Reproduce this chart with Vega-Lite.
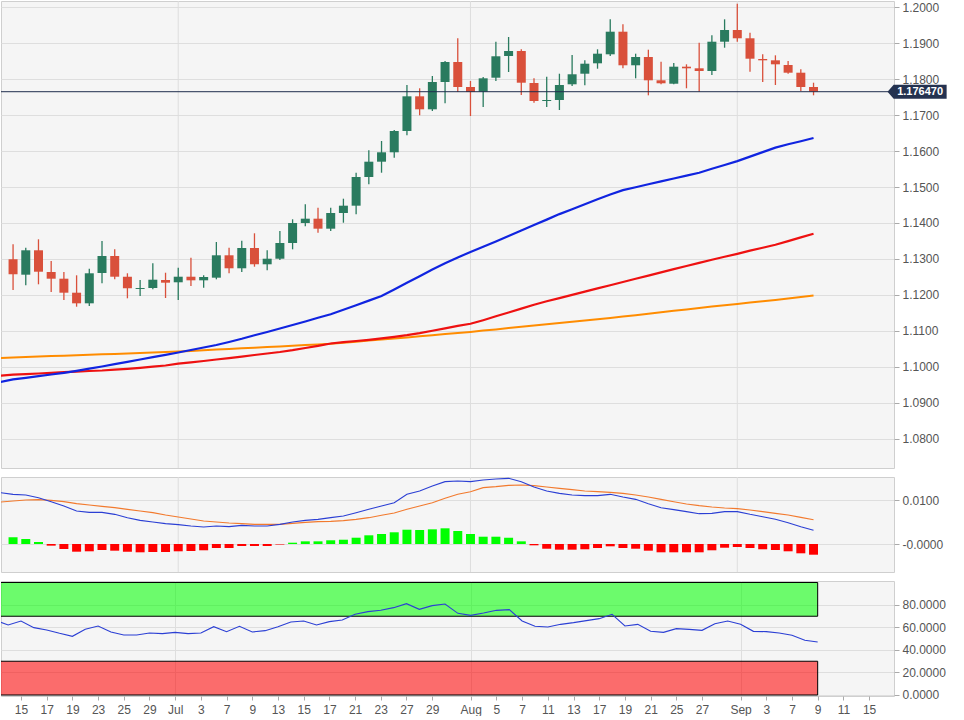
{
  "$schema": "https://vega.github.io/schema/vega-lite/v6.json",
  "padding": 0,
  "background": "#ffffff",
  "spacing": 7,
  "config": {
    "view": {"stroke": "#cfcfcf", "fill": "#f5f5f5"},
    "axis": {"labelFont": "Liberation Sans", "labelFontSize": 12, "labelColor": "#555555", "gridColor": "#dedede", "tickColor": "#aaaaaa", "domain": false, "title": null, "tickCount": 200, "labelOverlap": false}
  },
  "datasets": {
    "px": [
      {"i":-2,"date":"2020-06-11","m1":1.09583,"m2":1.09761,"m3":1.1025,"macd":0.011747,"sig":0.009611,"rsi":66.37},
      {"i":-1,"date":"2020-06-12","o":1.12992,"h":1.13408,"l":1.12139,"c":1.12575,"m1":1.09656,"m2":1.09786,"m3":1.10264,"macd":0.011365,"sig":0.00984,"hist":0.00153,"rsi":62.22},
      {"i":0,"date":"2020-06-15","o":1.12564,"h":1.13314,"l":1.12269,"c":1.13242,"m1":1.097,"m2":1.09803,"m3":1.10278,"macd":0.011213,"sig":0.010069,"hist":0.00114,"rsi":65.78},
      {"i":1,"date":"2020-06-16","o":1.13242,"h":1.13547,"l":1.12297,"c":1.12647,"m1":1.09747,"m2":1.09819,"m3":1.10289,"macd":0.010603,"sig":0.010145,"hist":0.00046,"rsi":59.85},
      {"i":2,"date":"2020-06-17","o":1.12639,"h":1.12944,"l":1.12083,"c":1.12453,"m1":1.09792,"m2":1.09839,"m3":1.10303,"macd":0.009687,"sig":0.009992,"hist":-0.00038,"rsi":57.78},
      {"i":3,"date":"2020-06-18","o":1.12453,"h":1.12639,"l":1.11861,"c":1.12064,"m1":1.09836,"m2":1.09856,"m3":1.10314,"macd":0.008696,"sig":0.009687,"hist":-0.00114,"rsi":54.81},
      {"i":4,"date":"2020-06-19","o":1.12064,"h":1.12547,"l":1.11675,"c":1.11769,"m1":1.09894,"m2":1.09872,"m3":1.10328,"macd":0.007551,"sig":0.00923,"hist":-0.00176,"rsi":52.15},
      {"i":5,"date":"2020-06-22","o":1.11769,"h":1.12731,"l":1.11694,"c":1.12603,"m1":1.09956,"m2":1.09889,"m3":1.10339,"macd":0.007246,"sig":0.008924,"hist":-0.00167,"rsi":58.37},
      {"i":6,"date":"2020-06-23","o":1.12611,"h":1.135,"l":1.12325,"c":1.13083,"m1":1.10014,"m2":1.09903,"m3":1.10353,"macd":0.007246,"sig":0.008619,"hist":-0.00137,"rsi":61.33},
      {"i":7,"date":"2020-06-24","o":1.13083,"h":1.13269,"l":1.12436,"c":1.12508,"m1":1.10078,"m2":1.09925,"m3":1.10364,"macd":0.006789,"sig":0.008314,"hist":-0.00153,"rsi":56},
      {"i":8,"date":"2020-06-25","o":1.12508,"h":1.12603,"l":1.11908,"c":1.12186,"m1":1.10144,"m2":1.0995,"m3":1.10375,"macd":0.006026,"sig":0.007933,"hist":-0.00176,"rsi":53.33},
      {"i":9,"date":"2020-06-26","o":1.12167,"h":1.12417,"l":1.11972,"c":1.12194,"m1":1.10208,"m2":1.09978,"m3":1.10389,"macd":0.005416,"sig":0.007551,"hist":-0.0019,"rsi":53.33},
      {"i":10,"date":"2020-06-29","o":1.12194,"h":1.12881,"l":1.12158,"c":1.12425,"m1":1.10272,"m2":1.10008,"m3":1.104,"macd":0.005034,"sig":0.00717,"hist":-0.00183,"rsi":55.11},
      {"i":11,"date":"2020-06-30","o":1.12417,"h":1.12619,"l":1.11917,"c":1.12342,"m1":1.10339,"m2":1.10042,"m3":1.10414,"macd":0.004653,"sig":0.006636,"hist":-0.00183,"rsi":54.52},
      {"i":12,"date":"2020-07-01","o":1.12353,"h":1.12758,"l":1.11861,"c":1.12508,"m1":1.10403,"m2":1.10094,"m3":1.10428,"macd":0.004424,"sig":0.006178,"hist":-0.00167,"rsi":55.7},
      {"i":13,"date":"2020-07-02","o":1.12508,"h":1.13036,"l":1.1225,"c":1.12408,"m1":1.10472,"m2":1.10131,"m3":1.10444,"macd":0.004119,"sig":0.005721,"hist":-0.0016,"rsi":54.52},
      {"i":14,"date":"2020-07-03","o":1.12408,"h":1.12547,"l":1.12203,"c":1.125,"m1":1.10542,"m2":1.10167,"m3":1.10464,"macd":0.00389,"sig":0.005263,"hist":-0.00144,"rsi":55.11},
      {"i":15,"date":"2020-07-06","o":1.12481,"h":1.13472,"l":1.12436,"c":1.13103,"m1":1.10611,"m2":1.10208,"m3":1.10483,"macd":0.004119,"sig":0.005034,"hist":-0.00092,"rsi":60.74},
      {"i":16,"date":"2020-07-07","o":1.13103,"h":1.13314,"l":1.12603,"c":1.12742,"m1":1.10694,"m2":1.10247,"m3":1.105,"macd":0.003966,"sig":0.004805,"hist":-0.00092,"rsi":56.3},
      {"i":17,"date":"2020-07-08","o":1.12742,"h":1.13508,"l":1.12639,"c":1.13306,"m1":1.10783,"m2":1.10289,"m3":1.10519,"macd":0.004272,"sig":0.004653,"hist":-0.00046,"rsi":61.04},
      {"i":18,"date":"2020-07-09","o":1.13306,"h":1.13714,"l":1.12786,"c":1.12853,"m1":1.10881,"m2":1.10333,"m3":1.10536,"macd":0.004119,"sig":0.0045,"hist":-0.00046,"rsi":56},
      {"i":19,"date":"2020-07-10","o":1.12853,"h":1.13242,"l":1.12686,"c":1.13008,"m1":1.10972,"m2":1.10375,"m3":1.10556,"macd":0.004119,"sig":0.0045,"hist":-0.00046,"rsi":57.19},
      {"i":20,"date":"2020-07-13","o":1.13008,"h":1.13778,"l":1.12972,"c":1.13444,"m1":1.11069,"m2":1.10417,"m3":1.10572,"macd":0.0045,"sig":0.0045,"hist":-0.00012,"rsi":60.74},
      {"i":21,"date":"2020-07-14","o":1.13444,"h":1.14103,"l":1.13269,"c":1.14,"m1":1.11167,"m2":1.10467,"m3":1.10592,"macd":0.005034,"sig":0.004729,"hist":0.0003,"rsi":64.89},
      {"i":22,"date":"2020-07-15","o":1.14,"h":1.14519,"l":1.13908,"c":1.1412,"m1":1.11264,"m2":1.10528,"m3":1.10608,"macd":0.005416,"sig":0.004958,"hist":0.00061,"rsi":65.78},
      {"i":23,"date":"2020-07-16","o":1.1412,"h":1.14425,"l":1.13731,"c":1.13842,"m1":1.11367,"m2":1.10586,"m3":1.10628,"macd":0.005645,"sig":0.005111,"hist":0.00061,"rsi":62.22},
      {"i":24,"date":"2020-07-17","o":1.13842,"h":1.14425,"l":1.13778,"c":1.14278,"m1":1.11467,"m2":1.10653,"m3":1.10644,"macd":0.006026,"sig":0.005187,"hist":0.00085,"rsi":65.19},
      {"i":25,"date":"2020-07-20","o":1.14278,"h":1.14675,"l":1.14008,"c":1.14481,"m1":1.11589,"m2":1.10689,"m3":1.10672,"macd":0.006407,"sig":0.005339,"hist":0.00098,"rsi":66.67},
      {"i":26,"date":"2020-07-21","o":1.14481,"h":1.15397,"l":1.14242,"c":1.15278,"m1":1.11717,"m2":1.10722,"m3":1.10703,"macd":0.00717,"sig":0.005645,"hist":0.00144,"rsi":71.7},
      {"i":27,"date":"2020-07-22","o":1.15278,"h":1.16019,"l":1.15075,"c":1.15703,"m1":1.11844,"m2":1.10756,"m3":1.10733,"macd":0.007933,"sig":0.006026,"hist":0.00199,"rsi":74.07},
      {"i":28,"date":"2020-07-23","o":1.15703,"h":1.16278,"l":1.15397,"c":1.15964,"m1":1.11972,"m2":1.10794,"m3":1.10761,"macd":0.008696,"sig":0.00656,"hist":0.00229,"rsi":75.26},
      {"i":29,"date":"2020-07-24","o":1.15964,"h":1.16583,"l":1.15814,"c":1.16556,"m1":1.12153,"m2":1.10836,"m3":1.10792,"macd":0.009459,"sig":0.007094,"hist":0.00268,"rsi":77.63},
      {"i":30,"date":"2020-07-27","o":1.16556,"h":1.17833,"l":1.16436,"c":1.17519,"m1":1.12339,"m2":1.10883,"m3":1.10822,"macd":0.011365,"sig":0.007933,"hist":0.00327,"rsi":81.19},
      {"i":31,"date":"2020-07-28","o":1.17519,"h":1.17742,"l":1.16992,"c":1.17158,"m1":1.12522,"m2":1.10939,"m3":1.10853,"macd":0.012128,"sig":0.008696,"hist":0.0032,"rsi":76.15},
      {"i":32,"date":"2020-07-29","o":1.17158,"h":1.18083,"l":1.17111,"c":1.17917,"m1":1.12708,"m2":1.11006,"m3":1.10883,"macd":0.013272,"sig":0.009459,"hist":0.00336,"rsi":79.41},
      {"i":33,"date":"2020-07-30","o":1.17917,"h":1.185,"l":1.17325,"c":1.18472,"m1":1.12883,"m2":1.11072,"m3":1.10914,"macd":0.014264,"sig":0.01045,"hist":0.00359,"rsi":80.89},
      {"i":34,"date":"2020-07-31","o":1.18472,"h":1.19131,"l":1.17639,"c":1.17778,"m1":1.13042,"m2":1.11142,"m3":1.10944,"macd":0.014416,"sig":0.011365,"hist":0.00297,"rsi":72.59},
      {"i":35,"date":"2020-08-03","o":1.17778,"h":1.17944,"l":1.16972,"c":1.17639,"m1":1.13197,"m2":1.112,"m3":1.10975,"macd":0.014264,"sig":0.011976,"hist":0.00229,"rsi":70.81},
      {"i":36,"date":"2020-08-04","o":1.17647,"h":1.18056,"l":1.17222,"c":1.18019,"m1":1.13342,"m2":1.113,"m3":1.11011,"macd":0.014645,"sig":0.012891,"hist":0.00167,"rsi":72.89},
      {"i":37,"date":"2020-08-05","o":1.18036,"h":1.19036,"l":1.17944,"c":1.18631,"m1":1.13489,"m2":1.11408,"m3":1.11044,"macd":0.014874,"sig":0.01312,"hist":0.00167,"rsi":75.26},
      {"i":38,"date":"2020-08-06","o":1.18639,"h":1.19167,"l":1.18194,"c":1.18778,"m1":1.13639,"m2":1.11514,"m3":1.11081,"macd":0.015027,"sig":0.013425,"hist":0.00144,"rsi":75.85},
      {"i":39,"date":"2020-08-07","o":1.18778,"h":1.18825,"l":1.17556,"c":1.17897,"m1":1.13789,"m2":1.11622,"m3":1.11117,"macd":0.014264,"sig":0.013501,"hist":0.00061,"rsi":65.78},
      {"i":40,"date":"2020-08-10","o":1.17889,"h":1.18019,"l":1.17342,"c":1.17389,"m1":1.13944,"m2":1.11728,"m3":1.11153,"macd":0.013043,"sig":0.013349,"hist":-0.0003,"rsi":61.04},
      {"i":41,"date":"2020-08-11","o":1.17389,"h":1.18064,"l":1.17222,"c":1.17417,"m1":1.14094,"m2":1.11825,"m3":1.11186,"macd":0.012128,"sig":0.013043,"hist":-0.00108,"rsi":60.44},
      {"i":42,"date":"2020-08-12","o":1.17417,"h":1.18147,"l":1.17139,"c":1.17833,"m1":1.14247,"m2":1.11914,"m3":1.11222,"macd":0.011594,"sig":0.012738,"hist":-0.0013,"rsi":62.81},
      {"i":43,"date":"2020-08-13","o":1.17853,"h":1.18667,"l":1.17806,"c":1.18131,"m1":1.14383,"m2":1.12003,"m3":1.11258,"macd":0.011213,"sig":0.012433,"hist":-0.0013,"rsi":64.3},
      {"i":44,"date":"2020-08-14","o":1.18147,"h":1.18519,"l":1.17825,"c":1.18425,"m1":1.14519,"m2":1.12094,"m3":1.11294,"macd":0.01106,"sig":0.012128,"hist":-0.00121,"rsi":66.07},
      {"i":45,"date":"2020-08-17","o":1.18436,"h":1.18825,"l":1.18286,"c":1.18703,"m1":1.14658,"m2":1.12183,"m3":1.11328,"macd":0.01106,"sig":0.011976,"hist":-0.00092,"rsi":67.85},
      {"i":46,"date":"2020-08-18","o":1.18686,"h":1.19658,"l":1.18639,"c":1.19314,"m1":1.14794,"m2":1.12272,"m3":1.11364,"macd":0.011365,"sig":0.011823,"hist":-0.00053,"rsi":71.7},
      {"i":47,"date":"2020-08-19","o":1.19314,"h":1.19519,"l":1.18297,"c":1.18381,"m1":1.14914,"m2":1.12361,"m3":1.114,"macd":0.010755,"sig":0.011594,"hist":-0.00092,"rsi":61.33},
      {"i":48,"date":"2020-08-20","o":1.18381,"h":1.18703,"l":1.18019,"c":1.18611,"m1":1.14994,"m2":1.1245,"m3":1.11439,"macd":0.010221,"sig":0.011213,"hist":-0.00108,"rsi":62.81},
      {"i":49,"date":"2020-08-21","o":1.18611,"h":1.18814,"l":1.17547,"c":1.17964,"m1":1.15075,"m2":1.12539,"m3":1.11481,"macd":0.00923,"sig":0.010755,"hist":-0.00153,"rsi":56.59},
      {"i":50,"date":"2020-08-24","o":1.17964,"h":1.1848,"l":1.17853,"c":1.17881,"m1":1.15156,"m2":1.12628,"m3":1.11519,"macd":0.008314,"sig":0.010221,"hist":-0.0019,"rsi":55.7},
      {"i":51,"date":"2020-08-25","o":1.17869,"h":1.18444,"l":1.17853,"c":1.18342,"m1":1.15236,"m2":1.12717,"m3":1.11561,"macd":0.007857,"sig":0.009687,"hist":-0.0019,"rsi":58.96},
      {"i":52,"date":"2020-08-26","o":1.18342,"h":1.18408,"l":1.17742,"c":1.18297,"m1":1.15314,"m2":1.12806,"m3":1.116,"macd":0.007399,"sig":0.009153,"hist":-0.0019,"rsi":58.37},
      {"i":53,"date":"2020-08-27","o":1.18297,"h":1.19008,"l":1.17647,"c":1.18222,"m1":1.15397,"m2":1.12894,"m3":1.11642,"macd":0.006941,"sig":0.008772,"hist":-0.0019,"rsi":57.48},
      {"i":54,"date":"2020-08-28","o":1.18222,"h":1.19214,"l":1.18111,"c":1.19036,"m1":1.15506,"m2":1.12978,"m3":1.11681,"macd":0.007018,"sig":0.008467,"hist":-0.00144,"rsi":63.41},
      {"i":55,"date":"2020-08-31","o":1.19036,"h":1.19658,"l":1.18869,"c":1.19361,"m1":1.15611,"m2":1.13061,"m3":1.11717,"macd":0.007399,"sig":0.008238,"hist":-0.00085,"rsi":65.78},
      {"i":56,"date":"2020-09-01","o":1.19361,"h":1.20092,"l":1.19036,"c":1.19131,"m1":1.15719,"m2":1.13144,"m3":1.11753,"macd":0.007399,"sig":0.008085,"hist":-0.00069,"rsi":62.81},
      {"i":57,"date":"2020-09-02","o":1.19131,"h":1.19286,"l":1.18203,"c":1.18564,"m1":1.15844,"m2":1.13231,"m3":1.11789,"macd":0.006789,"sig":0.00778,"hist":-0.00092,"rsi":56.59},
      {"i":58,"date":"2020-09-03","o":1.18556,"h":1.18686,"l":1.17917,"c":1.18519,"m1":1.15969,"m2":1.13314,"m3":1.11825,"macd":0.006255,"sig":0.007399,"hist":-0.00121,"rsi":56.3},
      {"i":59,"date":"2020-09-04","o":1.18519,"h":1.18658,"l":1.17833,"c":1.18408,"m1":1.16094,"m2":1.13397,"m3":1.11861,"macd":0.005645,"sig":0.007018,"hist":-0.00137,"rsi":55.11},
      {"i":60,"date":"2020-09-07","o":1.18389,"h":1.185,"l":1.18147,"c":1.18175,"m1":1.16186,"m2":1.13497,"m3":1.119,"macd":0.004882,"sig":0.006636,"hist":-0.00167,"rsi":53.04},
      {"i":61,"date":"2020-09-08","o":1.18175,"h":1.18269,"l":1.17667,"c":1.17778,"m1":1.16272,"m2":1.136,"m3":1.11942,"macd":0.003966,"sig":0.006102,"hist":-0.00213,"rsi":48.59},
      {"i":62,"date":"2020-09-09","o":1.17778,"h":1.17897,"l":1.17547,"c":1.17647,"m1":1.16361,"m2":1.13703,"m3":1.11983,"macd":0.003127,"sig":0.005568,"hist":-0.00245,"rsi":47.11}
    ],
    "zones": [
      {"zone": "overbought", "lo": 70, "hi": 100, "from": -3, "to": 62},
      {"zone": "oversold", "lo": 0, "hi": 30, "from": -3, "to": 62}
    ]
  },
  "vconcat": [
    {
      "width": 893,
      "height": 467,
      "data": {"name": "px"},
      "layer": [
        {
          "transform": [{"filter": "indexof([12, 35, 56], datum.i) >= 0"}],
          "mark": {"type": "rule", "color": "#dedede", "strokeWidth": 1},
          "encoding": {
            "x": {"field": "i", "type": "quantitative", "scale": {"domain": [-1.556, 67.94], "nice": false, "zero": false}, "axis": null}
          }
        },
        {
          "mark": {"type": "line", "color": "#ff8c00", "strokeWidth": 2, "clip": true},
          "encoding": {
            "x": {"field": "i", "type": "quantitative"},
            "y": {"field": "m3", "type": "quantitative", "scale": {"domain": [1.071944, 1.201667], "nice": false, "zero": false}, "axis": {"orient": "right", "values": [1.08, 1.09, 1.1, 1.11, 1.12, 1.13, 1.14, 1.15, 1.16, 1.17, 1.18, 1.19, 1.2], "format": ".4f", "tickSize": 5, "labelPadding": 3, "grid": true}}
          }
        },
        {
          "mark": {"type": "line", "color": "#ee1111", "strokeWidth": 2.2, "clip": true},
          "encoding": {"x": {"field": "i", "type": "quantitative"}, "y": {"field": "m2", "type": "quantitative"}}
        },
        {
          "mark": {"type": "line", "color": "#1024e0", "strokeWidth": 2.2, "clip": true},
          "encoding": {"x": {"field": "i", "type": "quantitative"}, "y": {"field": "m1", "type": "quantitative"}}
        },
        {
          "mark": {"type": "rule", "strokeWidth": 1.3, "clip": true},
          "encoding": {
            "x": {"field": "i", "type": "quantitative"},
            "y": {"field": "l", "type": "quantitative"},
            "y2": {"field": "h"},
            "color": {"condition": {"test": "datum.c >= datum.o", "value": "#2a7b5f"}, "value": "#d9503b"}
          }
        },
        {
          "mark": {"type": "bar", "size": 9, "clip": true},
          "encoding": {
            "x": {"field": "i", "type": "quantitative"},
            "y": {"field": "o", "type": "quantitative"},
            "y2": {"field": "c"},
            "color": {"condition": {"test": "datum.c >= datum.o", "value": "#2a7b5f"}, "value": "#d9503b"}
          }
        },
        {
          "transform": [{"filter": "datum.i == 62"}],
          "mark": {"type": "rule", "color": "#1f2d4d", "strokeWidth": 1},
          "encoding": {"y": {"field": "c", "type": "quantitative"}}
        },
        {
          "transform": [{"filter": "datum.i == 62"}],
          "mark": {"type": "point", "shape": "M -1.23,0 L -1,-0.264 L 1,-0.264 L 1,0.264 L -1,0.264 Z", "filled": true, "color": "#243250", "opacity": 1, "size": 2809, "strokeWidth": 0},
          "encoding": {"x": {"datum": 70.39, "type": "quantitative"}, "y": {"field": "c", "type": "quantitative"}}
        },
        {
          "transform": [{"filter": "datum.i == 62"}],
          "mark": {"type": "text", "color": "#ffffff", "font": "Liberation Sans", "fontSize": 11, "fontWeight": "bold", "align": "center", "baseline": "middle"},
          "encoding": {"x": {"datum": 70.39, "type": "quantitative"}, "y": {"field": "c", "type": "quantitative"}, "text": {"field": "c", "type": "quantitative", "format": ".6f"}}
        }
      ]
    },
    {
      "width": 893,
      "height": 95,
      "data": {"name": "px"},
      "layer": [
        {
          "transform": [{"filter": "indexof([12, 35, 56], datum.i) >= 0"}],
          "mark": {"type": "rule", "color": "#dedede", "strokeWidth": 1},
          "encoding": {
            "x": {"field": "i", "type": "quantitative", "scale": {"domain": [-1.556, 67.94], "nice": false, "zero": false}, "axis": null}
          }
        },
        {
          "transform": [{"filter": "isValid(datum.hist)"}],
          "mark": {"type": "bar", "size": 9, "clip": true},
          "encoding": {
            "x": {"field": "i", "type": "quantitative"},
            "y": {"field": "hist", "type": "quantitative", "scale": {"domain": [-0.006407, 0.015332], "nice": false, "zero": false}, "axis": {"orient": "right", "values": [0, 0.01], "labelExpr": "datum.value == 0 ? '-0.0000' : format(datum.value, '.4f')", "tickSize": 5, "labelPadding": 3, "grid": true}},
            "y2": {"datum": 0},
            "color": {"condition": {"test": "datum.hist >= 0", "value": "#00ff00"}, "value": "#ff0000"}
          }
        },
        {
          "mark": {"type": "line", "color": "#f27a2e", "strokeWidth": 1.1, "clip": true},
          "encoding": {"x": {"field": "i", "type": "quantitative"}, "y": {"field": "sig", "type": "quantitative"}}
        },
        {
          "mark": {"type": "line", "color": "#2b3fd4", "strokeWidth": 1.1, "clip": true},
          "encoding": {"x": {"field": "i", "type": "quantitative"}, "y": {"field": "macd", "type": "quantitative"}}
        }
      ]
    },
    {
      "width": 893,
      "height": 115,
      "layer": [
        {
          "data": {"name": "zones"},
          "mark": {"type": "rect", "stroke": "#000000", "strokeWidth": 1, "fillOpacity": 0.56, "clip": true},
          "encoding": {
            "x": {"field": "from", "type": "quantitative", "scale": {"domain": [-1.556, 67.94], "nice": false, "zero": false}, "axis": {
              "values": [0, 2, 4, 6, 8, 10, 12, 14, 16, 18, 20, 22, 24, 26, 28, 30, 32, 35, 37, 39, 41, 43, 45, 47, 49, 51, 53, 56, 58, 60, 62, 64, 66],
              "labelExpr": "['15','17','19','23','25','29','Jul','3','7','9','13','15','17','21','23','27','29','Aug','5','7','11','13','17','19','21','25','27','Sep','3','7','9','11','15'][indexof([0,2,4,6,8,10,12,14,16,18,20,22,24,26,28,30,32,35,37,39,41,43,45,47,49,51,53,56,58,60,62,64,66], datum.value)]",
              "labelFlush": false, "tickSize": 4, "labelPadding": 4,
              "grid": true,
              "gridOpacity": {"condition": {"test": "indexof([12, 35, 56], datum.value) >= 0", "value": 1}, "value": 0}
            }},
            "x2": {"field": "to"},
            "y": {"field": "lo", "type": "quantitative", "scale": {"domain": [-0.89, 101.33], "nice": false, "zero": false}, "axis": {"orient": "right", "values": [0, 20, 40, 60, 80], "format": ".4f", "tickSize": 5, "labelPadding": 3, "grid": true}},
            "y2": {"field": "hi"},
            "fill": {"field": "zone", "type": "nominal", "scale": {"domain": ["overbought", "oversold"], "range": ["#00ff00", "#ff0000"]}, "legend": null}
          }
        },
        {
          "data": {"name": "px"},
          "mark": {"type": "line", "color": "#2b3fd4", "strokeWidth": 1.1, "clip": true},
          "encoding": {"x": {"field": "i", "type": "quantitative"}, "y": {"field": "rsi", "type": "quantitative"}}
        }
      ]
    }
  ]
}
